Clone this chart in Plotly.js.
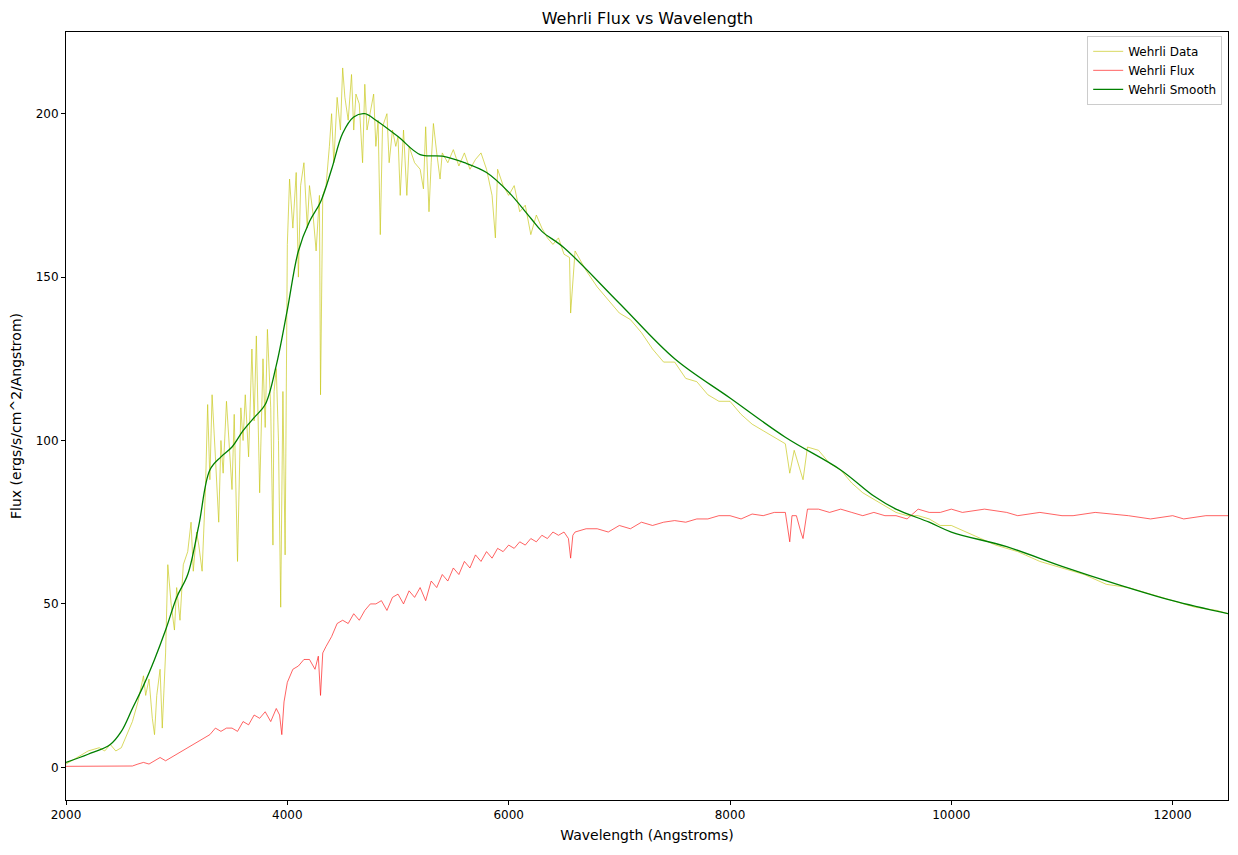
<!DOCTYPE html>
<html><head><script src="https://cdn.plot.ly/plotly-3.0.1.min.js"></script></head>
<body style="margin:0"><div id="c" style="width:1238px;height:855px"></div>
<script>
const dataX=[2000,2100,2200,2300,2350,2400,2450,2500,2550,2600,2650,2700,2720,2750,2780,2800,2820,2850,2870,2900,2920,2950,2980,3000,3030,3060,3100,3130,3150,3180,3200,3230,3260,3280,3300,3320,3350,3380,3400,3420,3450,3480,3500,3520,3550,3580,3600,3620,3650,3680,3700,3720,3750,3780,3800,3820,3850,3870,3880,3900,3920,3940,3960,3980,4000,4020,4050,4080,4100,4120,4150,4180,4200,4230,4260,4290,4300,4320,4350,4380,4400,4420,4450,4480,4500,4520,4550,4580,4600,4620,4650,4680,4700,4720,4750,4780,4800,4820,4840,4860,4900,4920,4950,4980,5000,5020,5050,5080,5100,5150,5200,5230,5250,5280,5300,5320,5350,5380,5400,5450,5500,5550,5600,5650,5700,5750,5800,5850,5880,5900,5950,6000,6050,6100,6150,6200,6250,6300,6350,6400,6450,6500,6550,6560,6600,6650,6700,6800,6900,7000,7100,7200,7300,7400,7500,7600,7700,7800,7900,8000,8100,8200,8300,8400,8500,8540,8580,8660,8700,8800,8900,9000,9100,9200,9300,9400,9500,9600,9700,9800,9900,10000,10200,10400,10600,10800,11000,11200,11400,11600,11800,12000,12200,12400,12500];
const dataY=[1,3,5,6,5,7,5,6,10,14,20,28,22,27,15,10,22,30,12,35,62,50,42,55,45,62,66,75,60,72,68,60,85,111,88,114,95,75,100,90,112,95,85,108,63,110,100,114,95,128,106,132,84,125,104,134,110,68,115,122,100,49,115,65,160,180,165,182,150,178,185,165,178,170,158,175,114,175,178,190,200,185,205,195,214,205,198,212,195,206,203,185,209,195,200,206,190,198,163,196,200,185,195,190,193,175,195,175,190,185,183,177,196,170,185,197,188,180,188,185,189,184,188,183,186,188,183,175,162,183,178,175,178,170,172,163,169,165,162,160,162,157,156,139,158,155,152,147,143,139,137,133,128,124,124,119,118,114,112,112,108,105,103,101,99,90,97,88,98,97,93,91,87,84,82,80,78,77,77,76,74,74,71,68,66,63,61,59,56,55,53,51,49,48,47];
const fluxX=[2000,2200,2400,2600,2650,2700,2750,2800,2850,2900,2950,3000,3050,3100,3150,3200,3250,3300,3350,3400,3450,3500,3550,3600,3650,3700,3750,3800,3850,3900,3930,3950,3970,4000,4050,4100,4150,4200,4250,4280,4300,4320,4350,4400,4450,4500,4550,4600,4650,4700,4750,4800,4850,4900,4950,5000,5050,5100,5150,5200,5250,5300,5350,5400,5450,5500,5550,5600,5650,5700,5750,5800,5850,5900,5950,6000,6050,6100,6150,6200,6250,6300,6350,6400,6450,6500,6540,6560,6580,6600,6700,6800,6900,7000,7100,7200,7300,7400,7500,7600,7700,7800,7900,8000,8100,8200,8300,8400,8500,8540,8560,8600,8640,8660,8700,8800,8900,9000,9100,9200,9300,9400,9500,9600,9700,9800,9900,10000,10100,10300,10500,10600,10800,11000,11100,11300,11600,11800,12000,12100,12300,12500];
const fluxY=[0.3,0.3,0.3,0.4,1,1.5,1,2,3,2,3,4,5,6,7,8,9,10,12,11,12,12,11,14,13,16,15,17,14,18,16,10,20,26,30,31,33,33,30,34,22,35,37,40,44,45,44,47,45,48,50,50,51,48,52,53,50,54,52,55,51,57,55,59,57,61,59,63,61,65,63,66,64,67,66,68,67,69,68,70,69,71,70,72,71,72,70,64,71,72,73,73,72,74,73,75,74,75,75.5,75,76,76,77,77,76,77.5,77,78,78,69,77,77,72,70,79,79,78,79,78,77,78,77,77,76,79,78,78,79,78,79,78,77,78,77,77,78,77,76,77,76,77,77];
const smoothX=[2000,2200,2400,2500,2600,2700,2800,2900,3000,3100,3200,3300,3400,3500,3600,3700,3800,3900,4000,4100,4200,4300,4400,4500,4600,4700,4800,5000,5200,5400,5600,5800,6000,6200,6300,6500,7000,7500,8000,8500,9000,9300,9500,9800,10000,10500,11000,11500,12000,12500];
const smoothY=[1.5,4,7,11,18,25,33,42,52,59,74,91,95,98,103,107,111,123,140,158,167,173,183,194,199,200,198,193,187.5,187,185,182,176,168,164,159,142,125,113,101,91,83,79,75,72,67.5,61.5,56,51,47];
const traces=[
 {x:dataX,y:dataY,name:'Wehrli Data',mode:'lines',line:{color:'#c8c81e',width:0.7}},
 {x:fluxX,y:fluxY,name:'Wehrli Flux',mode:'lines',line:{color:'#ff2020',width:0.7}},
 {x:smoothX,y:smoothY,name:'Wehrli Smooth',mode:'lines',line:{color:'green',width:1.3,shape:'spline'}}
];
const ax={showgrid:false,zeroline:false,showline:true,mirror:true,linecolor:'black',ticks:'outside',ticklen:4,tickcolor:'black',tickfont:{size:12},tickformat:'d'};
Plotly.newPlot('c',traces,{
 width:1238,height:855,margin:{l:66,r:10,t:32,b:55},
 paper_bgcolor:'white',plot_bgcolor:'white',
 font:{family:'DejaVu Sans',color:'black',size:12},
 title:{text:'Wehrli Flux vs Wavelength',x:0.523,y:0.985,font:{size:16}},
 xaxis:Object.assign({},ax,{range:[2000,12500],dtick:2000,title:{text:'Wavelength (Angstroms)',standoff:8}}),
 yaxis:Object.assign({},ax,{range:[-10,225],dtick:50,title:{text:'Flux (ergs/s/cm^2/Angstrom)',standoff:10}}),
 legend:{x:0.995,y:0.995,xanchor:'right',yanchor:'top',bordercolor:'#ccc',borderwidth:1,font:{size:12}},
 showlegend:true
},{displayModeBar:false});
</script></body></html>
